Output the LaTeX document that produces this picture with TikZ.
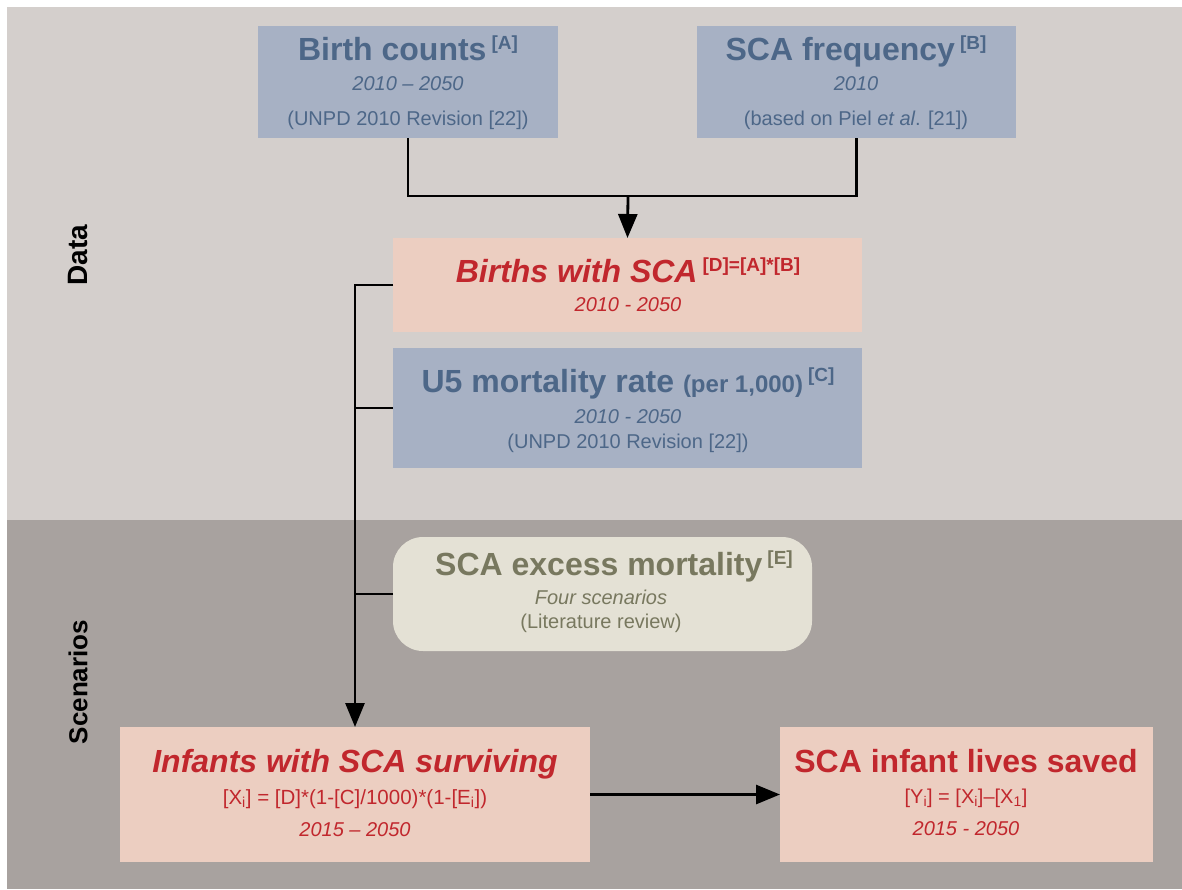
\documentclass[tikz,border=0pt]{standalone}
\usepackage{fontspec}
\setmainfont{Liberation Sans}
\usetikzlibrary{arrows.meta}
\definecolor{toppanel}{HTML}{D4CFCC}
\definecolor{botpanel}{HTML}{A8A29F}
\definecolor{bluebox}{HTML}{A7B1C4}
\definecolor{bluetext}{HTML}{4D6788}
\definecolor{peach}{HTML}{ECCEC1}
\definecolor{redtext}{HTML}{C1272D}
\definecolor{beige}{HTML}{E4E1D5}
\definecolor{olive}{HTML}{78785F}
\newcommand{\fs}[1]{\fontsize{#1}{#1}\selectfont}
\newcommand{\sref}[1]{\hspace{5pt}\raisebox{11pt}{\fs{19}\bfseries #1}}
\tikzset{
  box/.style={inner sep=0pt, outer sep=0pt, anchor=north west},
  ttl/.style={anchor=base, inner sep=0pt, font=\fs{32}\bfseries},
  sub/.style={anchor=base, inner sep=0pt, font=\fs{20}\itshape},
  src/.style={anchor=base, inner sep=0pt, font=\fs{20}},
  conn/.style={line width=2.8pt, black},
  arr/.style={conn, -{Triangle[length=24pt,width=19pt]}},
  side/.style={anchor=center, rotate=90, inner sep=0pt, font=\fs{28}\bfseries}
}
\begin{document}
\begin{tikzpicture}[x=1pt,y=-1pt]
\useasboundingbox (0,0) rectangle (1182,889);
\fill[white] (0,0) rectangle (1182,889);
\fill[toppanel] (7,7) rectangle (1182,520);
\fill[botpanel] (7,520) rectangle (1182,889);

% boxes
\node[box, fill=bluebox, minimum width=300pt, minimum height=112pt] (bc) at (258,26) {};
\node[box, fill=bluebox, minimum width=319pt, minimum height=112pt] (sf) at (697,26) {};
\node[box, fill=peach, minimum width=469pt, minimum height=94pt] (bs) at (393,238) {};
\node[box, fill=bluebox, minimum width=469pt, minimum height=120pt] (u5) at (393,348) {};
\node[box, fill=beige, rounded corners=30pt, minimum width=419pt, minimum height=114pt] (ex) at (393,537) {};
\node[box, fill=peach, minimum width=470pt, minimum height=135pt] (inf) at (120,727) {};
\node[box, fill=peach, minimum width=373pt, minimum height=135pt] (ls) at (780,727) {};

% texts
\node[ttl, bluetext] (bc1) at (408,60) {Birth counts\sref{[A]}};
\node[sub, bluetext] (bc2) at (408,90) {2010 -- 2050};
\node[src, bluetext] (bc3) at (408,125) {(UNPD 2010 Revision [22])};

\node[ttl, bluetext] (sf1) at (856,60) {SCA frequency\sref{[B]}};
\node[sub, bluetext] (sf2) at (856,90) {2010};
\node[src, bluetext] (sf3) at (856,125) {(based on Piel \textit{et al}. [21])};

\node[ttl, redtext] (bs1) at (628,282) {\textit{Births with SCA}\sref{[D]=[A]*[B]}};
\node[sub, redtext] (bs2) at (628,311) {2010 - 2050};

\node[ttl, bluetext] (u51) at (628,392) {U5 mortality rate {\fs{24}(per 1,000)}\sref{[C]}};
\node[sub, bluetext] (u52) at (628,423) {2010 - 2050};
\node[src, bluetext] (u53) at (628,448) {(UNPD 2010 Revision [22])};

\node[ttl, olive] (ex1) at (614,575) {SCA excess mortality\sref{[E]}};
\node[sub, olive] (ex2) at (601,604) {Four scenarios};
\node[src, olive] (ex3) at (601,628) {(Literature review)};

\node[ttl, redtext] (inf1) at (355,772) {\textit{Infants with SCA surviving}};
\node[src, redtext, font=\fs{20.5}] (inf2) at (355,804) {[X\textsubscript{i}] = [D]*(1-[C]/1000)*(1-[E\textsubscript{i}])};
\node[sub, redtext] (inf3) at (355,836) {2015 -- 2050};

\node[ttl, redtext] (ls1) at (966,772) {SCA infant lives saved};
\node[src, redtext, font=\fs{20}] (ls2) at (966,803) {[Y\textsubscript{i}] = [X\textsubscript{i}]--[X\textsubscript{1}]};
\node[sub, redtext] (ls3) at (966,835) {2015 - 2050};

% side labels
\node[side] (data) at (78,255) {Data};
\node[side, font=\fs{26}\bfseries] (scen) at (78,682) {Scenarios};

% connectors
\coordinate (jn) at (628,196);
\draw[conn] (bc.south) |- (jn) -| (sf.south);
\draw[arr] (jn) -- (bs.north);
\draw[arr] (bs.west) -| (inf.north);
\draw[conn] (u5.west) -- (u5.west -| inf.north);
\draw[conn] (ex.west) -- (ex.west -| inf.north);
\draw[arr] (inf.east) -- (ls.west);
\end{tikzpicture}
\end{document}
